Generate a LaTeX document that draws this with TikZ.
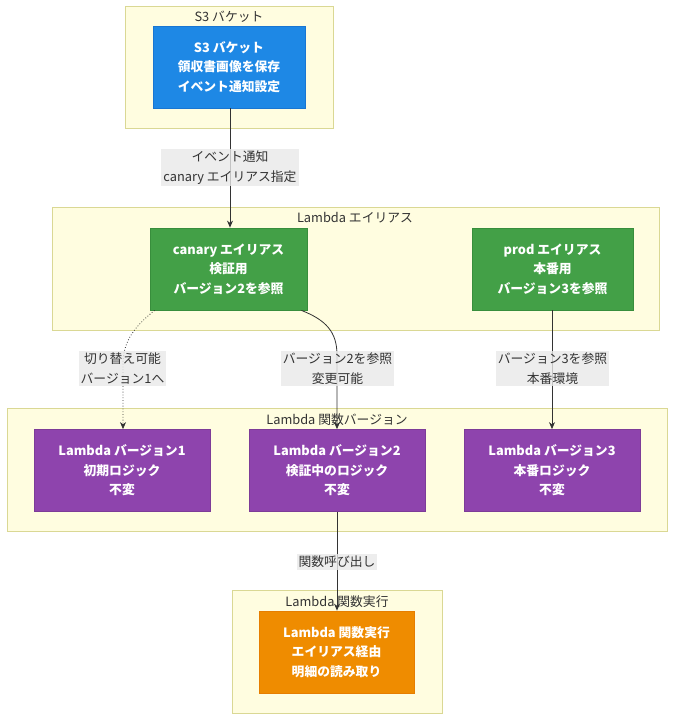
\documentclass[tikz,border=0pt]{standalone}
\usepackage{fontspec}
\setmainfont{Noto Sans CJK JP}
\usepackage{tikz}
\usetikzlibrary{positioning, arrows.meta, calc}
\usepackage{xcolor}
\definecolor{s3blue}{HTML}{1E88E5}
\definecolor{s3line}{HTML}{1976D2}
\definecolor{alsgreen}{HTML}{43A047}
\definecolor{alsline}{HTML}{388E3C}
\definecolor{verpurple}{HTML}{8E44AD}
\definecolor{verline}{HTML}{7D3C98}
\definecolor{runorange}{HTML}{EF8C00}
\definecolor{runline}{HTML}{E67E00}
\definecolor{grpfill}{HTML}{FFFDE0}
\definecolor{grpline}{HTML}{DAD894}
\definecolor{lblgray}{HTML}{E8E8E8}
\definecolor{inkgray}{HTML}{333333}

\begin{document}
\begin{tikzpicture}[x=1pt, y=-1pt,
    font=\fontsize{12.8}{19.5}\selectfont,
    grp/.style={draw=grpline, fill=grpfill, line width=1pt, inner sep=0pt},
    grptitle/.style={text=inkgray, inner sep=0pt},
    box/.style={align=center, text=white, font=\fontsize{12.8}{19.5}\selectfont\bfseries,
                minimum height=82pt, inner sep=0pt, line width=0.8pt},
    elabel/.style={align=center, text=inkgray, fill=lblgray, fill opacity=0.8, text opacity=1,
                   inner sep=2pt},
    link/.style={draw=inkgray, line width=0.8pt, -{Stealth[length=7pt,width=6pt]}}]
        \useasboundingbox (0,0) rectangle (674,720);

        % groups
        \node[grp, minimum width=208pt, minimum height=122pt] (s3grp) at (229,67) {};
        \node[grp, minimum width=607pt, minimum height=123pt] (alsgrp) at (355.5,268.5) {};
        \node[grp, minimum width=660pt, minimum height=123pt] (vergrp) at (337,469.5) {};
        \node[grp, minimum width=210pt, minimum height=123pt] (rungrp) at (337,651.5) {};
        \node[grptitle] (s3title) at (229,17) {S3 バケット};
        \node[grptitle] (alstitle) at (355,218) {Lambda エイリアス};
        \node[grptitle] (vertitle) at (337,420) {Lambda 関数バージョン};
        \node[grptitle] (runtitle) at (337,602) {Lambda 関数実行};

        % boxes
        \node[box, fill=s3blue, draw=s3line, minimum width=152pt] (s3) at (229,67)
            {S3 バケット\\領収書画像を保存\\イベント通知設定};
        \node[box, fill=alsgreen, draw=alsline, minimum width=157pt] (canary) at (228.5,269)
            {canary エイリアス\\検証用\\バージョン2を参照};
        \node[box, fill=alsgreen, draw=alsline, minimum width=161pt] (prod) at (552.5,269)
            {prod エイリアス\\本番用\\バージョン3を参照};
        \node[box, fill=verpurple, draw=verline, minimum width=176pt] (ver1) at (122,470.5)
            {Lambda バージョン1\\初期ロジック\\不変};
        \node[box, fill=verpurple, draw=verline, minimum width=176pt] (ver2) at (337,470.5)
            {Lambda バージョン2\\検証中のロジック\\不変};
        \node[box, fill=verpurple, draw=verline, minimum width=176pt] (ver3) at (552,470.5)
            {Lambda バージョン3\\本番ロジック\\不変};
        \node[box, fill=runorange, draw=runline, minimum width=155pt] (run) at (336.5,652)
            {Lambda 関数実行\\エイリアス経由\\明細の読み取り};

        % links
        \draw[link] (s3.south -| 230,0) -- (canary.north -| 230,0);
        \draw[link, dotted] ($(canary.south west)+(5,0)$) .. controls (130,330) and (123,345) .. (123,365) -- (ver1.north -| 123,0);
        \draw[link] ($(canary.south east)+(-6,0)$) .. controls (326,320) and (337,332) .. (337,355) -- (ver2.north);
        \draw[link] (prod.south -| 552,0) -- (ver3.north);
        \draw[link] (ver2.south) -- (run.north -| 337,0);

        % link labels
        \node[elabel] (lbl1) at (230,167.5) {イベント通知\\canary エイリアス指定};
        \node[elabel] (lbl2) at (122.5,368.5) {切り替え可能\\バージョン1へ};
        \node[elabel] (lbl3) at (337.5,368.5) {バージョン2を参照\\変更可能};
        \node[elabel] (lbl4) at (552.5,368.5) {バージョン3を参照\\本番環境};
        \node[elabel] (lbl5) at (337,562) {関数呼び出し};
      \end{tikzpicture}
\end{document}
